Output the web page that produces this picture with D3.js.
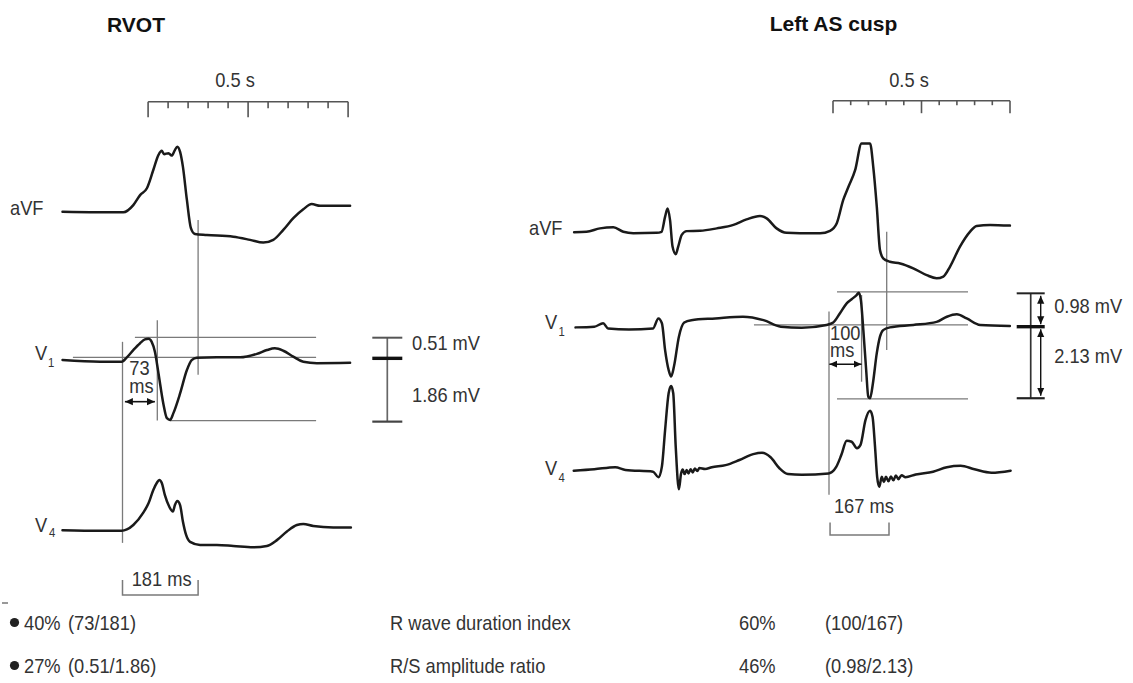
<!DOCTYPE html>
<html><head><meta charset="utf-8">
<script src="https://cdn.jsdelivr.net/npm/d3@7"></script>
<style>
body{margin:0;background:#fff}
svg text{font-family:"Liberation Sans",Arial,sans-serif;fill:#333;font-size:21px}
svg text.title{font-weight:bold;fill:#111;font-size:21px}
svg text.sub{font-size:13px}
</style></head><body>
<svg id="c" width="1133" height="683"></svg>
<script>
// ---------------- DATA ----------------
const titles = ["RVOT", "Left AS cusp"];
const leadNames = ["aVF", "V", "V"];
const leadSubs = ["", "1", "4"];
const scaleBarLabel = "0.5 s";
const scaleBarMs = 500;
const scaleBarStep = 50;

// traces: [time ms from QRS onset, amplitude mV]
const rvotAVF = [[-150,0.01],[2,-0.01],[27,0.20],[44,0.49],[61,0.69],[77,1.22],[90,1.66],[98,1.78],[104,1.68],[115,1.71],[123,1.64],[131,1.80],[137,1.90],[144,1.75],[151,1.32],[161,0.35],[171,-0.47],[181,-0.64],[211,-0.67],[277,-0.72],[319,-0.81],[352,-0.89],[377,-0.81],[402,-0.52],[427,-0.18],[452,0.08],[473,0.23],[494,0.18],[527,0.18],[569,0.18]];
const rvotV1 = [[-150,-0.08],[-56,-0.13],[-2,-0.13],[11,0],[27,0.21],[44,0.41],[56,0.52],[65,0.54],[73,0.45],[81,0.16],[90,-0.47],[102,-1.34],[111,-1.77],[119,-1.82],[127,-1.63],[144,-1.05],[161,-0.37],[173,-0.08],[186,-0.01],[236,0],[294,0],[336,0.10],[361,0.21],[381,0.26],[402,0.19],[427,0.02],[452,-0.13],[486,-0.17],[569,-0.16]];
const rvotV4 = [[-150,0.01],[-56,-0.01],[-2,-0.01],[11,0.03],[27,0.16],[52,0.52],[65,0.79],[77,1.18],[86,1.39],[92,1.47],[98,1.39],[106,1.03],[117,0.69],[126,0.55],[131,0.74],[137,0.86],[144,0.74],[151,0.26],[159,-0.13],[169,-0.33],[194,-0.42],[236,-0.42],[277,-0.45],[327,-0.49],[361,-0.45],[386,-0.28],[411,-0.03],[436,0.16],[452,0.19],[477,0.13],[527,0.09],[571,0.09]];

const lacAVF = [[-720,0.01],[-685,0.02],[-647,0.12],[-609,0.15],[-581,0.02],[-553,-0.02],[-487,-0.01],[-473,0.02],[-463,0.46],[-456,0.70],[-449,0.36],[-442,-0.41],[-433,-0.63],[-426,-0.41],[-416,-0.07],[-402,0.04],[-364,0.05],[-317,0.12],[-270,0.22],[-233,0.38],[-195,0.48],[-176,0.41],[-148,0.12],[-120,-0.01],[-82,-0.02],[-25,-0.02],[3,0.05],[22,0.27],[40,0.94],[55,1.33],[74,1.82],[92,2.59],[116,2.59],[125,1.91],[135,0.75],[144,-0.51],[153,-0.75],[172,-0.85],[201,-0.90],[238,-1.04],[276,-1.24],[304,-1.33],[323,-1.28],[342,-0.99],[370,-0.41],[398,0.02],[417,0.19],[455,0.22],[511,0.20]];
const lacV1 = [[-716,-0.04],[-663,-0.02],[-638,0.08],[-624,-0.07],[-565,-0.10],[-497,-0.07],[-482,0.22],[-472,0.08],[-463,-0.70],[-453,-1.28],[-446,-1.47],[-438,-1.18],[-424,-0.31],[-409,0.10],[-389,0.17],[-321,0.22],[-243,0.27],[-185,0.17],[-136,-0.02],[-77,-0.05],[-7,0.03],[12,0.10],[31,0.37],[50,0.66],[64,0.78],[78,0.90],[84,0.97],[90,0.76],[97,-0.12],[105,-1.28],[111,-2.06],[116,-2.10],[124,-1.67],[135,-0.79],[144,-0.31],[153,-0.12],[172,-0.04],[238,0.03],[304,0.12],[333,0.27],[361,0.34],[389,0.22],[427,0.03],[511,0]];
const lacV4 = [[-721,0.01],[-663,0.05],[-604,0.11],[-575,0.03],[-497,-0.02],[-482,-0.18],[-472,0.13],[-463,1.19],[-453,2.26],[-446,2.47],[-440,2.26],[-433,0.71],[-424,-0.53],[-418,-0.08],[-413,0.04],[-408,-0.09],[-402,0.03],[-397,-0.07],[-391,0.05],[-385,-0.04],[-379,0.07],[-372,0.0],[-366,0.09],[-350,0.06],[-331,0.11],[-292,0.17],[-253,0.32],[-214,0.49],[-189,0.53],[-165,0.40],[-140,0.08],[-116,-0.09],[-77,-0.11],[-1,-0.07],[20,0.11],[35,0.47],[50,0.88],[64,0.85],[79,0.66],[89,0.76],[103,1.48],[116,1.75],[123,1.58],[130,0.71],[136,-0.17],[142,-0.46],[149,-0.17],[155,-0.32],[161,-0.17],[168,-0.30],[175,-0.16],[182,-0.27],[189,-0.13],[196,-0.24],[205,-0.12],[216,-0.18],[245,-0.10],[294,-0.02],[333,0.11],[372,0.15],[411,0.05],[459,-0.05],[513,0.01]];

// measured values
const rDur = [73, 100];
const qrsDur = [181, 167];
const rAmp = [0.51, 0.98];
const sAmp = [1.86, 2.13];

// index table
const indexNames = ["R wave duration index", "R/S amplitude ratio"];
const rvotPct = ["40%", "27%"];
const rvotFrac = ["(73/181)", "(0.51/1.86)"];
const lacPct = ["60%", "46%"];
const lacFrac = ["(100/167)", "(0.98/2.13)"];

// ---------------- LAYOUT ----------------
const PX_PER_MV = 34.4;
const CONDENSE = 0.87;
const panels = [
  {
    title: titles[0], titleX: 136, titleY: 31.5,
    onsetX: 122.5, pxPerMs: 0.4,
    bases: [212, 357.3, 530.5],
    traces: [rvotAVF, rvotV1, rvotV4],
    labelPos: [[10,215],[35,360,48,367],[35,531.5,49,536.5]],
    barStart: 64, barY: 101.7, majorLen: 15.5, minorLen: 6.5, barLabelX: 235, barLabelY: 86.5,
    hlines: [[0.58,31,484],[0,-124,484],[-1.84,119,484]],
    vlines: [[0,1,0.45,2,-0.36],[87,1,1.08,1,-1.84],[189,0,-0.23,1,-0.51]],
    arrow: [6, 81, -1.29],
    rLabel: [17, -0.51, -1.04],
    bracket: [0, 189, -1.44, -1.875], bracketLabel: [23, -1.60],
    amp: {t: 662, half: 15, top: 0.57, mid: -0.03, bot: -1.87, labels: [0.21, -1.29], dx: 24.7, arrows: false}
  },
  {
    title: titles[1], titleX: 833.5, titleY: 31,
    onsetX: 829, pxPerMs: 0.354,
    bases: [232.5, 326, 471],
    traces: [lacAVF, lacV1, lacV4],
    labelPos: [[529,235],[545,329,558.5,336],[545,475,558.5,482]],
    barStart: 11.3, barY: 100.7, majorLen: 12.5, minorLen: 4.5, barLabelX: 909, barLabelY: 86.5,
    hlines: [[0.99,22.6,392.7],[0.03,-212,392.7],[-2.12,22.6,392.7]],
    vlines: [[0,1,0.42,2,-0.69],[92,1,0.90,1,-1.62],[163,0,0.02,1,-0.70]],
    arrow: [1, 92, -1.11],
    rLabel: [3, -0.41, -0.90],
    bracket: [3, 169.5, -1.50, -1.86], bracketLabel: [14, -1.23],
    amp: {t: 569.8, half: 14, top: 0.95, mid: -0.02, bot: -2.10, labels: [0.39, -1.08], dx: 23.5, arrows: true, adx: 10}
  }
];

// ---------------- DRAW ----------------
const svg = d3.select("#c");
function txt(g, x, y, s, anchor, cls) {
  const t = g.append("text").attr("transform", `translate(${x},${y}) scale(${CONDENSE},1)`)
    .attr("text-anchor", anchor || "start").text(s);
  if (cls) t.attr("class", cls);
  return t;
}
const defs = svg.append("defs");
defs.append("marker").attr("id","ah").attr("viewBox","0 0 10 10")
  .attr("refX",10).attr("refY",5).attr("markerWidth",8).attr("markerHeight",8)
  .attr("markerUnits","userSpaceOnUse").attr("orient","auto-start-reverse")
  .append("path").attr("d","M0,0.5 L10,5 L0,9.5 z").attr("fill","#111");

panels.forEach((p, pi) => {
  const g = svg.append("g");
  const x = d3.scaleLinear().domain([0, 500]).range([p.onsetX, p.onsetX + 500 * p.pxPerMs]);
  const ys = p.bases.map(b => d3.scaleLinear().domain([0, 1]).range([b, b - PX_PER_MV]));

  g.append("text").attr("class","title").attr("x",p.titleX).attr("y",p.titleY)
    .attr("text-anchor","middle").text(p.title);

  // time scale bar
  const bx0 = x(p.barStart), bx1 = x(p.barStart + scaleBarMs);
  g.append("line").attr("x1",bx0).attr("x2",bx1).attr("y1",p.barY).attr("y2",p.barY)
    .attr("stroke","#555").attr("stroke-width",1.6);
  d3.range(0, scaleBarMs + 1, scaleBarStep).forEach(v => {
    const major = v % 250 === 0;
    g.append("line").attr("x1",x(p.barStart+v)).attr("x2",x(p.barStart+v))
      .attr("y1",p.barY).attr("y2",p.barY + (major ? p.majorLen : p.minorLen))
      .attr("stroke","#555").attr("stroke-width",1.6);
  });
  txt(g, p.barLabelX, p.barLabelY, scaleBarLabel, "middle");

  // lead labels
  p.labelPos.forEach((lp, li) => {
    txt(g, lp[0], lp[1], leadNames[li]);
    if (leadSubs[li]) txt(g, lp[2], lp[3], leadSubs[li], "start", "sub");
  });

  // measurement lines
  const ml = g.append("g").attr("stroke","#7a7a7a").attr("stroke-width",1.3);
  p.hlines.forEach(h => {
    ml.append("line").attr("x1",x(h[1])).attr("x2",x(h[2])).attr("y1",ys[1](h[0])).attr("y2",ys[1](h[0]));
  });
  p.vlines.forEach(v => {
    ml.append("line").attr("x1",x(v[0])).attr("x2",x(v[0])).attr("y1",ys[v[1]](v[2])).attr("y2",ys[v[3]](v[4]));
  });

  // traces
  const line = d3.line().x(d => x(d[0])).y(d => d[1]).curve(d3.curveMonotoneX);
  p.traces.forEach((tr, li) => {
    g.append("path").datum(tr.map(d => [d[0], ys[li](d[1])]))
      .attr("d", line).attr("fill","none").attr("stroke","#1a1a1a")
      .attr("stroke-width",2.5).attr("stroke-linejoin","round").attr("stroke-linecap","round");
  });

  // R duration arrow + label
  g.append("line").attr("x1",x(p.arrow[0])).attr("x2",x(p.arrow[1]))
    .attr("y1",ys[1](p.arrow[2])).attr("y2",ys[1](p.arrow[2]))
    .attr("stroke","#111").attr("stroke-width",1.6)
    .attr("marker-start","url(#ah)").attr("marker-end","url(#ah)");
  txt(g, x(p.rLabel[0]), ys[1](p.rLabel[1]), String(rDur[pi]));
  txt(g, x(p.rLabel[0]), ys[1](p.rLabel[2]), "ms");

  // QRS duration bracket
  const bk = p.bracket;
  g.append("path").attr("d",
      `M${x(bk[0])},${ys[2](bk[2])}V${ys[2](bk[3])}H${x(bk[1])}V${ys[2](bk[2])}`)
    .attr("fill","none").attr("stroke","#7a7a7a").attr("stroke-width",1.5);
  txt(g, x(p.bracketLabel[0]), ys[2](p.bracketLabel[1]), qrsDur[pi] + " ms");

  // amplitude bar
  const a = p.amp, ax = x(a.t);
  g.append("line").attr("x1",ax).attr("x2",ax).attr("y1",ys[1](a.top)).attr("y2",ys[1](a.bot))
    .attr("stroke", a.arrows ? "#333" : "#666").attr("stroke-width",1.7);
  [[a.top, a.arrows ? "#222" : "#555", 2], [a.mid, "#111", 3.4], [a.bot, a.arrows ? "#222" : "#444", 2.2]].forEach(c => {
    g.append("line").attr("x1",ax - a.half).attr("x2",ax + a.half)
      .attr("y1",ys[1](c[0])).attr("y2",ys[1](c[0])).attr("stroke",c[1]).attr("stroke-width",c[2]);
  });
  if (a.arrows) {
    [[a.top, a.mid], [a.mid, a.bot]].forEach(seg => {
      g.append("line").attr("x1",ax + a.adx).attr("x2",ax + a.adx)
        .attr("y1",ys[1](seg[0]) + 2.5).attr("y2",ys[1](seg[1]) - 2.5)
        .attr("stroke","#111").attr("stroke-width",1.4)
        .attr("marker-start","url(#ah)").attr("marker-end","url(#ah)");
    });
  }
  txt(g, ax + a.dx, ys[1](a.labels[0]), rAmp[pi].toFixed(2) + " mV");
  txt(g, ax + a.dx, ys[1](a.labels[1]), sAmp[pi].toFixed(2) + " mV");
});

// index table
const rowY = d3.scalePoint().domain(indexNames).range([630, 673]);
const tbl = svg.append("g");
tbl.append("line").attr("x1",2).attr("x2",8).attr("y1",603).attr("y2",603).attr("stroke","#555").attr("stroke-width",1.2);
indexNames.forEach((n, i) => {
  const y = rowY(n);
  tbl.append("circle").attr("cx",14.5).attr("cy",y - 7.5).attr("r",4.6).attr("fill","#222");
  txt(tbl, 24, y, rvotPct[i]);
  txt(tbl, 68, y, rvotFrac[i]);
  txt(tbl, 390, y, n);
  txt(tbl, 739, y, lacPct[i]);
  txt(tbl, 825, y, lacFrac[i]);
});
</script>
</body></html>
